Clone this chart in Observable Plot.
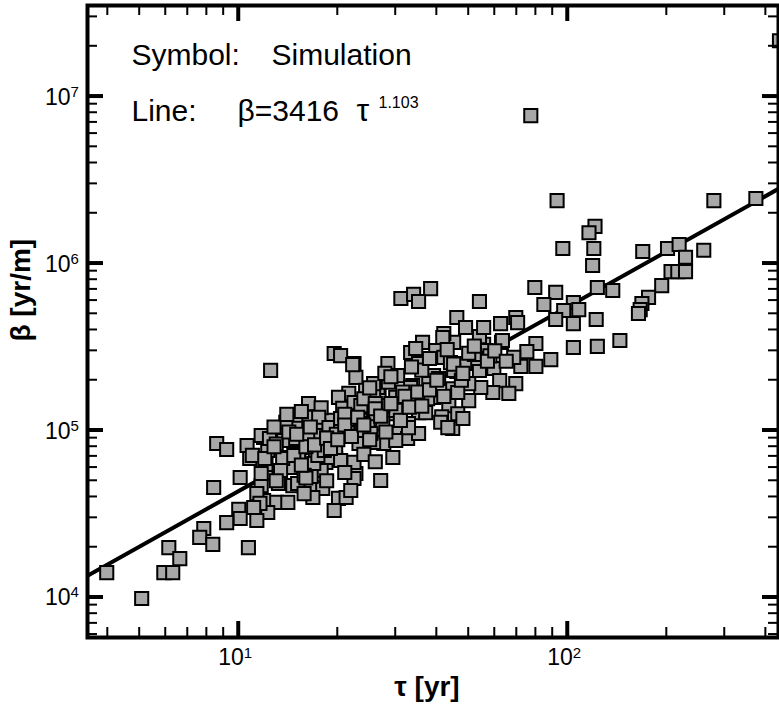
<!DOCTYPE html>
<html><head><meta charset="utf-8">
<script src="https://cdn.jsdelivr.net/npm/d3@7"></script>
<script src="https://cdn.jsdelivr.net/npm/@observablehq/plot@0.6"></script>
<style>body{margin:0;background:#fff;}</style>
</head><body><div id="chart"></div>
<script>
// Simulation points: tau [yr], beta [yr/m]
const tau = [
440,77.2,92.8,278,373,121,116,96.6,120,119,169,201,218,228,259,206,216,228,193,176,168,166,164,
79.4,91.9,123,137,122,144,123,104,53.9,84.6,104,108,97.2,91.9,104,46.0,62.5,69.5,70.4,80.0,75.1,
88.8,80.0,72.0,62.9,55.5,48.9,45.0,53.9,42.0,55.5,68.5,53.9,59.6,46.0,69.5,62.1,66.2,59.2,54.4,
44.7,50.0,43.5,46.3,55.5,63.3,56.2,52.5,48.6,41.7,36.2,39.7,33.3,28.4,30.4,35.2,42.0,50.0,39.1,
37.8,33.8,39.1,41.4,44.7,48.0,35.2,32.8,30.0,28.0,25.5,22.7,26.7,29.4,30.7,27.6,24.8,23.0,32.6,
35.2,22.4,22.7,26.5,38.3,31.1,34.0,35.2,12.5,19.5,20.4,22.2,45.0,33.3,37.5,41.1,32.8,30.0,27.4,
24.3,21.6,20.1,20.7,22.4,24.7,27.4,30.0,29.4,25.7,23.2,19.0,17.5,19.3,19.7,21.5,22.7,27.0,16.3,
16.2,17.8,14.9,13.9,14.7,17.4,17.1,18.4,19.7,15.2,13.9,12.25,11.9,12.1,14.4,13.2,14.6,16.6,17.8,
18.0,13.0,14.1,20.1,21.2,19.5,16.8,11.9,12.25,46.3,43.2,37.0,8.57,9.19,10.6,11.7,12.4,10.8,12.1,
10.1,8.39,11.7,11.35,11.6,10.0,10.1,9.19,11.35,7.83,7.61,8.34,10.7,6.13,6.62,5.92,6.30,3.97,5.07,
13.6,13.4,15.1,15.8,16.9,14.7,13.7,14.9,16.2,19.0,20.4,14.9,17.5,18.8,13.9,20.4,20.4,17.4,22.4,
22.4,21.9,25.2,23.5,25.7,25.7,23.5,25.7,11.7,11.1,
15.5,16.0,18.5,21.0,24.0,26.0,28.5,31.5,36.0,40.5,44.0,47.5,52.0,58.0,13.0,15.8,18.2,23.8,
27.8,33.5,38.0,43.0,11.0,12.8,14.2,16.6,19.8,25.0,29.0,34.5,
14.0,15.0,16.5,17.0,18.5,19.0,20.0,21.0,22.0,23.0,24.0,25.0,26.0,27.0,28.0,29.0,31.0,32.0,33.0,
35.0,36.0,38.0,40.0,42.0,45.0,48.0,50.0,52.0,57.0,60.0,65.0,13.0,12.0,16.0,18.5,21.0,24.0,26.0,
12.8,15.5
];
const beta = [
2.16e7,7.69e6,2.38e6,2.38e6,2.45e6,1.67e6,1.53e6,1.23e6,1.23e6,9.73e5,1.18e6,1.23e6,1.30e6,1.09e6,1.20e6,8.95e5,8.95e5,8.95e5,7.38e5,6.27e5,5.76e5,5.30e5,5.02e5,
7.18e5,6.72e5,7.18e5,6.89e5,4.62e5,3.46e5,3.19e5,3.14e5,5.92e5,5.68e5,5.84e5,5.30e5,5.23e5,4.62e5,4.37e5,4.75e5,4.37e5,4.75e5,4.43e5,3.32e5,2.97e5,
2.66e5,2.42e5,2.42e5,3.37e5,3.28e5,4.14e5,3.37e5,3.65e5,3.81e5,3.01e5,2.74e5,2.29e5,2.35e5,2.26e5,1.91e5,1.99e5,1.67e5,1.69e5,1.81e5,
1.78e5,1.51e5,1.41e5,1.26e5,4.14e5,3.46e5,3.01e5,2.70e5,2.52e5,3.60e5,3.37e5,3.01e5,2.93e5,2.52e5,2.13e5,2.52e5,2.74e5,1.91e5,2.13e5,
1.91e5,1.86e5,1.58e5,1.21e5,1.03e5,1.18e5,1.28e5,1.10e5,1.58e5,1.36e5,1.55e5,1.37e5,1.67e5,1.26e5,9.73e4,8.36e4,9.73e4,9.73e4,8.96e4,
9.60e4,2.52e5,2.08e5,1.81e5,7.08e5,6.18e5,6.54e5,5.92e5,2.29e5,2.89e5,2.81e5,2.48e5,2.29e5,1.81e5,1.55e5,1.12e5,1.04e5,1.32e5,1.41e5,
1.74e5,1.67e5,1.58e5,1.36e5,1.47e5,1.15e5,1.10e5,8.71e4,6.89e4,8.48e4,8.36e4,1.15e5,1.07e5,8.36e4,6.80e4,6.35e4,5.53e4,5.02e4,1.45e5,
1.20e5,1.37e5,1.15e5,1.01e5,8.71e4,9.33e4,6.89e4,6.44e4,7.38e4,7.28e4,6.89e4,7.59e4,9.08e4,5.60e4,6.01e4,4.82e4,4.68e4,4.56e4,5.76e4,
4.50e4,3.71e4,3.71e4,3.92e4,3.97e4,3.32e4,3.97e4,3.81e4,3.23e4,1.69e5,1.04e5,1.28e5,8.36e4,7.70e4,8.13e4,9.33e4,8.96e4,6.80e4,6.26e4,
5.23e4,4.56e4,4.68e4,4.19e4,3.66e4,3.37e4,2.97e4,2.81e4,2.89e4,2.59e4,2.29e4,2.08e4,1.99e4,1.99e4,1.71e4,1.41e4,1.41e4,1.41e4,9.87e3,
6.80e4,5.76e4,4.82e4,4.19e4,6.35e4,7.09e4,8.71e4,8.96e4,8.96e4,6.89e4,6.61e4,1.03e5,1.20e5,1.04e5,1.12e5,1.0e5,1.18e5,7.09e4,6.44e4,
5.16e4,4.37e4,9.60e4,1.0e5,1.26e5,1.62e5,1.41e5,1.91e5,5.53e4,3.46e4,
1.30e5,8.0e4,9.0e4,1.25e5,1.55e5,1.45e5,1.95e5,1.70e5,2.30e5,2.05e5,2.55e5,2.00e5,2.85e5,2.80e5,8.3e4,5.4e4,7.6e4,1.10e5,
2.20e5,2.40e5,2.70e5,3.05e5,7.1e4,1.05e5,9.8e4,5.3e4,9.5e4,1.80e5,2.10e5,3.10e5,
1.25e5,9.5e4,1.05e5,8.2e4,9.0e4,7.8e4,8.8e4,1.08e5,9.2e4,1.20e5,1.08e5,8.8e4,1.35e5,1.22e5,9.8e4,1.45e5,1.15e5,1.60e5,1.38e5,
1.70e5,1.40e5,1.75e5,2.00e5,1.60e5,2.50e5,2.20e5,2.90e5,3.20e5,2.60e5,3.00e5,2.60e5,5.0e4,6.8e4,5.2e4,5.0e4,5.6e4,7.2e4,6.5e4,
8.0e4,6.2e4
];
// Fit line beta = 3416 tau^1.103, end points read at the frame edges
const fitTau = [3.47, 437];
const fitBeta = [1.35e4, 2.8e6];

const xMajor = [10, 100];
const xMajorExp = ["1", "2"];
const xMinor = [4,5,6,7,8,9,20,30,40,50,60,70,80,90,200,300,400];
const yMajor = [1e4, 1e5, 1e6, 1e7];
const yMajorExp = ["4", "5", "6", "7"];
const yMinor = [6e3,7e3,8e3,9e3,2e4,3e4,4e4,5e4,6e4,7e4,8e4,9e4,2e5,3e5,4e5,5e5,6e5,7e5,8e5,9e5,
                2e6,3e6,4e6,5e6,6e6,7e6,8e6,9e6,2e7,3e7];

const legendRow1 = ["Symbol:", "Simulation"];
const legendRow2 = ["Line:", "\u03B2=3416", "\u03C4", "1.103"];
const xTitle = "\u03C4 [yr]";
const yTitle = "\u03B2 [yr/m]";

const points = tau.map((t, i) => ({tau: t, beta: beta[i]}));
const fit = fitTau.map((t, i) => ({tau: t, beta: fitBeta[i]}));
const xLab = xMajor.map((v, i) => ({v, exp: xMajorExp[i]}));
const yLab = yMajor.map((v, i) => ({v, exp: yMajorExp[i]}));
const tickRows = [
  ...xMinor.map(v => ({v, kind: "minor"})), ...xMajor.map(v => ({v, kind: "major"}))
];
const tickCols = [
  ...yMinor.map(v => ({v, kind: "minor"})), ...yMajor.map(v => ({v, kind: "major"}))
];

const font = "'Liberation Sans', Arial, Helvetica, sans-serif";

const chart = Plot.plot({
  width: 779, height: 704,
  marginLeft: 87, marginRight: 1, marginTop: 5, marginBottom: 67,
  x: {type: "log", domain: [3.47, 437], axis: null},
  y: {type: "log", domain: [5760, 3.51e7], axis: null},
  style: {fontFamily: font, background: "#fff", color: "#000"},
  marks: [
    Plot.line(fit, {x: "tau", y: "beta", stroke: "#000", strokeWidth: 4, clip: true}),
    Plot.dot(points, {x: "tau", y: "beta", symbol: "square", r: 7.4, fill: "#a8a8a8",
                      stroke: "#000", strokeWidth: 2, clip: true}),
    Plot.frame({stroke: "#000", strokeWidth: 4}),
    // tick labels 10^n
    Plot.text(xLab, {x: "v", frameAnchor: "bottom", text: () => "10", textAnchor: "end", lineAnchor: "bottom",
                     dx: 5, dy: 27, fontSize: 23, fill: "#000"}),
    Plot.text(xLab, {x: "v", frameAnchor: "bottom", text: "exp", textAnchor: "start", lineAnchor: "bottom",
                     dx: 5, dy: 20, fontSize: 15, fill: "#000"}),
    Plot.text(yLab, {y: "v", frameAnchor: "left", text: () => "10", textAnchor: "end", lineAnchor: "bottom",
                     dx: -17, dy: 8, fontSize: 23, fill: "#000"}),
    Plot.text(yLab, {y: "v", frameAnchor: "left", text: "exp", textAnchor: "start", lineAnchor: "bottom",
                     dx: -17, dy: 0, fontSize: 15, fill: "#000"}),
    // legend text
    Plot.text([legendRow1[0]], {frameAnchor: "top-left", text: d => d, dx: 44, dy: 59, textAnchor: "start",
                     lineAnchor: "bottom", fontSize: 30, fill: "#000"}),
    Plot.text([legendRow1[1]], {frameAnchor: "top-left", text: d => d, dx: 184, dy: 59, textAnchor: "start",
                     lineAnchor: "bottom", fontSize: 30, fill: "#000"}),
    Plot.text([legendRow2[0]], {frameAnchor: "top-left", text: d => d, dx: 44, dy: 115, textAnchor: "start",
                     lineAnchor: "bottom", fontSize: 30, fill: "#000"}),
    Plot.text([legendRow2[1]], {frameAnchor: "top-left", text: d => d, dx: 150, dy: 115, textAnchor: "start",
                     lineAnchor: "bottom", fontSize: 30, fill: "#000"}),
    Plot.text([legendRow2[2]], {frameAnchor: "top-left", text: d => d, dx: 269, dy: 115, textAnchor: "start",
                     lineAnchor: "bottom", fontSize: 32, fill: "#000"}),
    Plot.text([legendRow2[3]], {frameAnchor: "top-left", text: d => d, dx: 291, dy: 102, textAnchor: "start",
                     lineAnchor: "bottom", fontSize: 16, fill: "#000"}),
    // axis titles
    Plot.text([xTitle], {frameAnchor: "bottom", text: d => d, dx: -6, dy: 58, lineAnchor: "bottom",
                     fontSize: 28, fontWeight: "bold", fill: "#000"}),
    Plot.text([yTitle], {frameAnchor: "left", text: d => d, dx: -66, dy: 20, rotate: -90,
                     fontSize: 28, fontWeight: "bold", fill: "#000"})
  ]
});

document.getElementById("chart").appendChild(chart);

const svg = d3.select(chart.tagName.toLowerCase() === "svg" ? chart : chart.querySelector("svg"));

// dithered grey fill for the squares
svg.insert("defs", ":first-child").html(
  '<pattern id="dither" width="2" height="2" patternUnits="userSpaceOnUse">' +
  '<rect width="2" height="2" fill="#d2d2d2"/><rect width="1" height="1" fill="#7c7c7c"/>' +
  '<rect x="1" y="1" width="1" height="1" fill="#7c7c7c"/></pattern>');
svg.selectAll('g[aria-label="dot"]').attr("fill", "url(#dither)");

// inward ticks on all four sides, positioned with Plot's own scales
const sx = chart.scale("x"), sy = chart.scale("y");
const X0 = 87, X1 = 778, Y0 = 5, Y1 = 637;
const len = k => (k === "major" ? 16 : 10), wid = k => (k === "major" ? 4 : 2);
const tg = svg.append("g").attr("stroke", "#000").attr("aria-label", "ticks");
tg.selectAll("line.xb").data(tickRows).join("line")
  .attr("x1", d => sx.apply(d.v)).attr("x2", d => sx.apply(d.v))
  .attr("y1", Y1).attr("y2", d => Y1 - len(d.kind)).attr("stroke-width", d => wid(d.kind));
tg.selectAll("line.xt").data(tickRows).join("line")
  .attr("x1", d => sx.apply(d.v)).attr("x2", d => sx.apply(d.v))
  .attr("y1", Y0).attr("y2", d => Y0 + len(d.kind)).attr("stroke-width", d => wid(d.kind));
tg.selectAll("line.yl").data(tickCols).join("line")
  .attr("y1", d => sy.apply(d.v)).attr("y2", d => sy.apply(d.v))
  .attr("x1", X0).attr("x2", d => X0 + len(d.kind)).attr("stroke-width", d => wid(d.kind));
tg.selectAll("line.yr").data(tickCols).join("line")
  .attr("y1", d => sy.apply(d.v)).attr("y2", d => sy.apply(d.v))
  .attr("x1", X1).attr("x2", d => X1 - len(d.kind)).attr("stroke-width", d => wid(d.kind));
</script>
</body></html>
